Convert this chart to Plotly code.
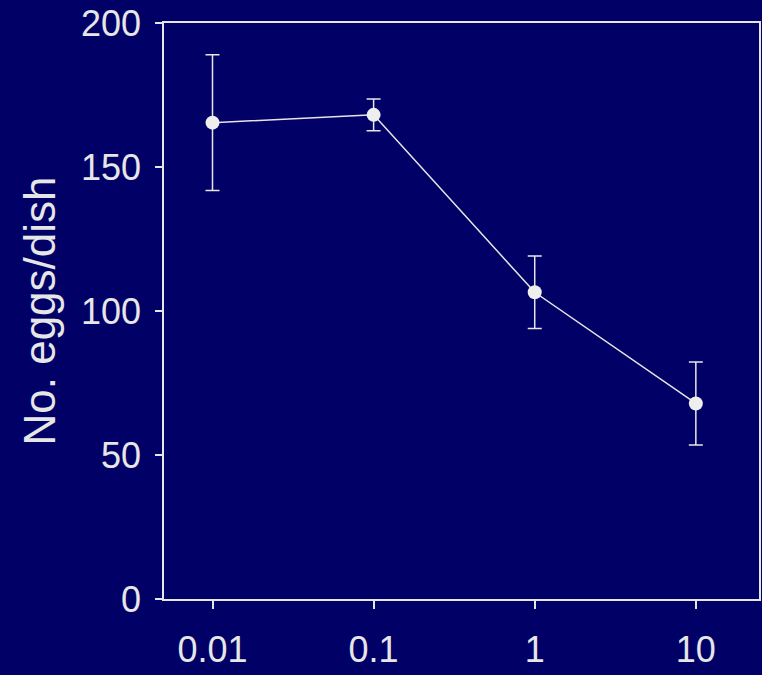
import plotly.graph_objects as go

doses = [0.01, 0.1, 1, 10]
eggs = [165.4, 168.1, 106.5, 67.9]
eggs_err = [23.6, 5.5, 12.6, 14.4]
x_ticks = [0.01, 0.1, 1, 10]
x_tick_labels = ["0.01", "0.1", "1", "10"]
y_ticks = [0, 50, 100, 150, 200]

BG = "#000066"
FG = "#E6E6E6"

fig = go.Figure()
fig.add_trace(go.Scatter(
    x=doses, y=eggs, mode="lines+markers",
    line=dict(color=FG, width=1.5),
    marker=dict(color="#EEEEEE", size=14),
    error_y=dict(type="data", array=eggs_err, visible=True,
                 color=FG, thickness=1.5, width=7),
    showlegend=False,
))

fig.update_layout(
    width=762, height=675,
    paper_bgcolor=BG, plot_bgcolor=BG,
    margin=dict(l=164, r=1, t=23, b=76),
    font=dict(family="Liberation Sans, Arial, sans-serif", color=FG, size=36),
)
fig.update_xaxes(
    type="log", range=[-2.301, 1.392],
    tickvals=x_ticks, ticktext=x_tick_labels,
    showgrid=False, zeroline=False,
    showline=True, linecolor=FG, linewidth=1.5, mirror=True,
    ticks="outside", ticklen=8, tickwidth=1.5, tickcolor=FG,
    tickfont=dict(size=36, color=FG),
    ticklabelstandoff=10,
)
fig.update_yaxes(
    range=[0, 200], tickvals=y_ticks,
    showgrid=False, zeroline=False,
    showline=True, linecolor=FG, linewidth=1.5, mirror=True,
    ticks="outside", ticklen=7, tickwidth=1.5, tickcolor=FG,
    tickfont=dict(size=36, color=FG),
    ticklabelstandoff=7,
    title=dict(text="No. eggs/dish", font=dict(size=44, color=FG), standoff=12),
)

fig.write_html("out.html", config={"displayModeBar": False})

with open("out.html", "r", encoding="utf-8") as f:
    html = f.read()
html = html.replace("<head>", "<head><style>html,body{margin:0;padding:0;background:#000066;}</style>", 1)
with open("out.html", "w", encoding="utf-8") as f:
    f.write(html)
